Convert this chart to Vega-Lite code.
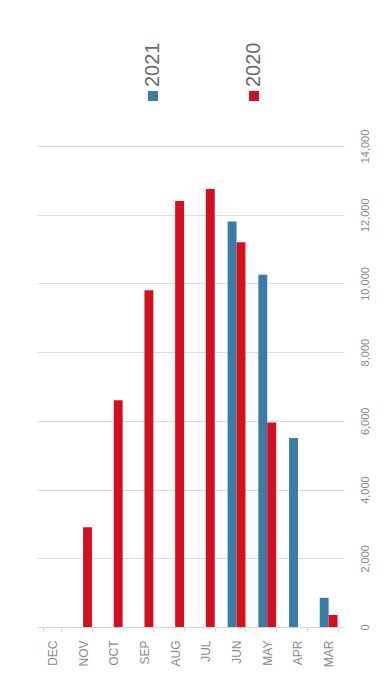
{
  "$schema": "https://vega.github.io/schema/vega-lite/v6.json",
  "padding": {"left": 31, "top": 42, "right": 5, "bottom": 5},
  "background": "white",
  "spacing": 0,
  "bounds": "flush",
  "config": {
    "view": {"stroke": null},
    "font": "Liberation Sans"
  },
  "datasets": {
    "bars": [
      {"month": "NOV", "year": "2020", "value": 2900},
      {"month": "OCT", "year": "2020", "value": 6600},
      {"month": "SEP", "year": "2020", "value": 9800},
      {"month": "AUG", "year": "2020", "value": 12400},
      {"month": "JUL", "year": "2020", "value": 12750},
      {"month": "JUN", "year": "2021", "value": 11800},
      {"month": "JUN", "year": "2020", "value": 11200},
      {"month": "MAY", "year": "2021", "value": 10250},
      {"month": "MAY", "year": "2020", "value": 5950},
      {"month": "APR", "year": "2021", "value": 5500},
      {"month": "MAR", "year": "2021", "value": 850},
      {"month": "MAR", "year": "2020", "value": 350}
    ],
    "years": [
      {"year": "2021"},
      {"year": "2020"}
    ]
  },
  "vconcat": [
    {
      "width": 331,
      "height": 100,
      "data": {"name": "years"},
      "layer": [
        {
          "mark": {"type": "square", "size": 100, "opacity": 1},
          "encoding": {
            "x": {"field": "year", "type": "nominal", "axis": null,
                  "scale": {"type": "point", "domain": ["2021", "2020"], "range": [116, 217], "padding": 0}},
            "color": {"field": "year", "type": "nominal", "legend": null,
                      "scale": {"domain": ["2021", "2020"], "range": ["#3b7ca6", "#d2111f"]}}
          }
        },
        {
          "mark": {"type": "text", "angle": 270, "align": "left", "baseline": "middle",
                   "dx": 9, "fontSize": 20, "color": "#6b6b6b"},
          "encoding": {
            "x": {"field": "year", "type": "nominal", "axis": null,
                  "scale": {"type": "point", "domain": ["2021", "2020"], "range": [116, 217], "padding": 0}},
            "text": {"field": "year", "type": "nominal"}
          }
        }
      ]
    },
    {
      "width": 307,
      "height": 481,
      "data": {"name": "bars"},
      "mark": {"type": "bar"},
      "encoding": {
        "x": {
          "field": "month", "type": "nominal",
          "scale": {"domain": ["DEC", "NOV", "OCT", "SEP", "AUG", "JUL", "JUN", "MAY", "APR", "MAR"],
                    "paddingInner": 0.42, "paddingOuter": 0.21},
          "axis": {
            "title": null, "labelAngle": 270, "labelAlign": "right", "labelBaseline": "middle",
            "labelPadding": 9, "labelFontSize": 12, "labelColor": "#8a8a8a",
            "domainColor": "#d6d6d6", "ticks": true, "tickBand": "extent", "tickSize": 4,
            "tickColor": "#d6d6d6"
          }
        },
        "xOffset": {"field": "year", "type": "nominal", "scale": {"domain": ["2021", "2020"]}},
        "y": {
          "field": "value", "type": "quantitative",
          "scale": {"domain": [0, 14000], "nice": false},
          "axis": {
            "title": null, "orient": "right", "values": [0, 2000, 4000, 6000, 8000, 10000, 12000, 14000],
            "format": ",.0f", "labelAngle": 270, "labelAlign": "center", "labelBaseline": "top",
            "labelPadding": 15, "labelFontSize": 11, "labelColor": "#8a8a8a",
            "domain": false, "ticks": false, "grid": true, "gridColor": "#dcdcdc"
          }
        },
        "color": {"field": "year", "type": "nominal", "legend": null,
                  "scale": {"domain": ["2021", "2020"], "range": ["#3b7ca6", "#d2111f"]}}
      }
    }
  ]
}
